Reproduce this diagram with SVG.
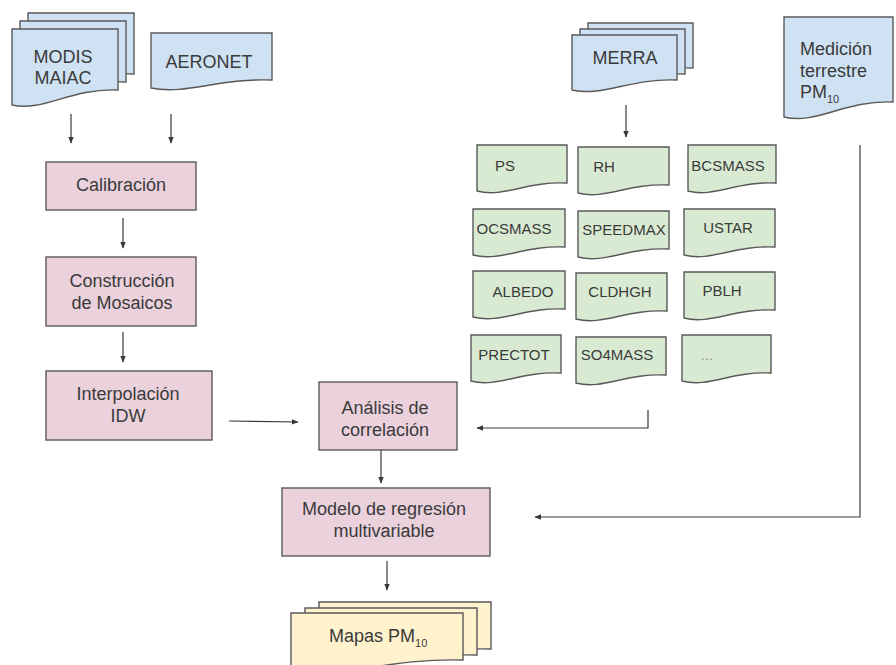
<svg xmlns="http://www.w3.org/2000/svg" width="896" height="665" viewBox="0 0 896 665">
<defs>
<style>
.blue{fill:#cfe2f3;stroke:#595959;stroke-width:1.4}
.pink{fill:#ead1dc;stroke:#595959;stroke-width:1.4}
.green{fill:#d9ead3;stroke:#595959;stroke-width:1.4}
.yellow{fill:#fff2cc;stroke:#595959;stroke-width:1.4}
text{font-family:"Liberation Sans",Arial,sans-serif;fill:#3a3a3a}
.t{font-size:18px;text-anchor:middle}
.g{font-size:15px;text-anchor:middle}
.c{fill:none;stroke:#3a3a3a;stroke-width:1.2}
</style>
<marker id="ah" viewBox="0 0 10 10" refX="9" refY="5" markerWidth="7" markerHeight="7" markerUnits="userSpaceOnUse" orient="auto">
<path d="M0,1 L10,5 L0,9 Z" fill="#3a3a3a"/>
</marker>
</defs>
<rect width="896" height="665" fill="#ffffff"/>

<g id="connectors">
<path class="c" d="M71,114 V143" marker-end="url(#ah)"/>
<path class="c" d="M171,114 V143" marker-end="url(#ah)"/>
<path class="c" d="M123,218 V248" marker-end="url(#ah)"/>
<path class="c" d="M123,332 V362" marker-end="url(#ah)"/>
<path class="c" d="M229,421 L298,422" marker-end="url(#ah)"/>
<path class="c" d="M648,410 V428 H477" marker-end="url(#ah)"/>
<path class="c" d="M381,450 V483" marker-end="url(#ah)"/>
<path class="c" d="M860,145 V517 H535" marker-end="url(#ah)"/>
<path class="c" d="M387,561 V590" marker-end="url(#ah)"/>
<path class="c" d="M626,105 V137" marker-end="url(#ah)"/>
</g>

<g id="modis">
<path class="blue" d="M28,13 H134 V74 C86,72 60,96 28,89 Z"/>
<path class="blue" d="M20,21 H126 V82 C78,80 52,104 20,97 Z"/>
<path class="blue" d="M12,29 H118 V90 C70,88 44,112 12,105 Z"/>
<text class="t" x="63" y="63">MODIS</text>
<text class="t" x="63" y="84">MAIAC</text>
</g>

<g id="aeronet">
<path class="blue" d="M151,33 H272 V80 C218,78 187,95 151,88 Z"/>
<text class="t" x="209" y="68">AERONET</text>
</g>

<g id="merra">
<path class="blue" d="M588,23 H693 V68 C646,66 620,85 588,78 Z"/>
<path class="blue" d="M580,29 H685 V74 C638,72 612,91 580,84 Z"/>
<path class="blue" d="M572,35 H677 V80 C630,78 604,97 572,90 Z"/>
<text class="t" x="625" y="64">MERRA</text>
</g>

<g id="medicion">
<path class="blue" d="M784,17 H893 V102 C844,100 817,125 784,117 Z"/>
<text x="800" y="55" font-size="18">Medición</text>
<text x="800" y="77" font-size="18">terrestre</text>
<text x="800" y="98" font-size="18">PM<tspan font-size="11" dy="5">10</tspan></text>
</g>

<g id="calibracion">
<rect class="pink" x="46" y="162" width="150" height="48"/>
<text class="t" x="121" y="191">Calibración</text>
</g>

<g id="construccion">
<rect class="pink" x="46" y="257" width="150" height="69"/>
<text class="t" x="122" y="287">Construcción</text>
<text class="t" x="122" y="309">de Mosaicos</text>
</g>

<g id="interpolacion">
<rect class="pink" x="46" y="371" width="166" height="69"/>
<text class="t" x="128" y="400">Interpolación</text>
<text class="t" x="128" y="422">IDW</text>
</g>

<g id="analisis">
<rect class="pink" x="319" y="382" width="138" height="68"/>
<text class="t" x="385" y="414">Análisis de</text>
<text class="t" x="385" y="436">correlación</text>
</g>

<g id="modelo">
<rect class="pink" x="282" y="488" width="208" height="68"/>
<text class="t" x="384" y="515">Modelo de regresión</text>
<text class="t" x="384" y="537">multivariable</text>
</g>

<g id="mapas">
<path class="yellow" d="M319,602 H491 V649 C414,647 371,668 319,661 Z"/>
<path class="yellow" d="M305,608 H477 V655 C400,653 357,674 305,667 Z"/>
<path class="yellow" d="M291,613 H463 V660 C386,658 343,679 291,672 Z"/>
<text x="329" y="642" font-size="18">Mapas PM<tspan font-size="11" dy="5">10</tspan></text>
</g>

<g id="ps"><path class="green" d="M477,145 H567 V183 C526.5,181 504,198 477,191 Z"/><text class="g" x="505" y="171">PS</text></g>
<g id="rh"><path class="green" d="M578,147 H669 V185 C628,183 605,200 578,193 Z"/><text class="g" x="604" y="172">RH</text></g>
<g id="bcsmass"><path class="green" d="M688,145 H776 V183 C736,181 714,198 688,191 Z"/><text class="g" x="728" y="171">BCSMASS</text></g>
<g id="ocsmass"><path class="green" d="M473,209 H565 V247 C524,245 501,262 473,255 Z"/><text class="g" x="514" y="234">OCSMASS</text></g>
<g id="speedmax"><path class="green" d="M578,211 H669 V249 C628,247 605,264 578,257 Z"/><text class="g" x="624" y="235">SPEEDMAX</text></g>
<g id="ustar"><path class="green" d="M684,209 H775 V247 C734,245 711,262 684,255 Z"/><text class="g" x="728" y="233">USTAR</text></g>
<g id="albedo"><path class="green" d="M473,271 H565 V309 C524,307 501,324 473,317 Z"/><text class="g" x="523" y="297">ALBEDO</text></g>
<g id="cldhgh"><path class="green" d="M576,273 H667 V311 C626,309 603,326 576,319 Z"/><text class="g" x="620" y="297">CLDHGH</text></g>
<g id="pblh"><path class="green" d="M684,272 H775 V310 C734,308 711,325 684,318 Z"/><text class="g" x="722" y="296">PBLH</text></g>
<g id="prectot"><path class="green" d="M471,335 H561 V373 C520.5,371 498,388 471,381 Z"/><text class="g" x="514" y="360">PRECTOT</text></g>
<g id="so4mass"><path class="green" d="M576,337 H666 V375 C625.5,373 603,390 576,383 Z"/><text class="g" x="617" y="360">SO4MASS</text></g>
<g id="more"><path class="green" d="M682,335 H771 V373 C731,371 709,388 682,381 Z"/><text class="g" x="707" y="360" style="fill:#9a9a9a">...</text></g>
</svg>
